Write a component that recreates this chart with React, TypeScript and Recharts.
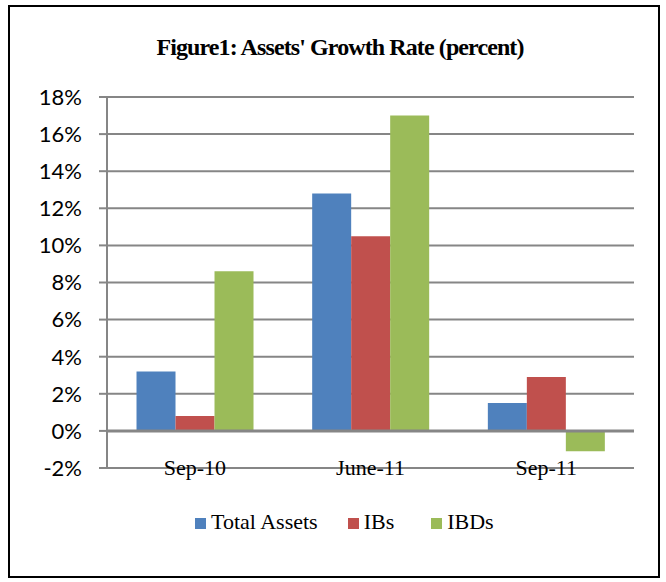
import { BarChart, Bar, XAxis, YAxis, CartesianGrid, Legend, ReferenceLine } from 'recharts'

const periods = ['Sep-10', 'June-11', 'Sep-11']
const totalAssets = [3.2, 12.8, 1.5]
const ibs = [0.8, 10.5, 2.9]
const ibds = [8.6, 17.0, -1.1]
const yTicks = [-2, 0, 2, 4, 6, 8, 10, 12, 14, 16, 18]

const series = [
  { key: 'total', name: 'Total Assets', color: '#4F81BD' },
  { key: 'ibs', name: 'IBs', color: '#C0504D' },
  { key: 'ibds', name: 'IBDs', color: '#9BBB59' },
]

const data = periods.map((p, i) => ({
  period: p,
  total: totalAssets[i],
  ibs: ibs[i],
  ibds: ibds[i],
}))

const serif = '"Liberation Serif", "Times New Roman", serif'
const gridColor = '#868686'

function CategoryTick(props: { x?: number; y?: number; payload?: { value: string } }) {
  const { x = 0, y = 0, payload } = props
  return (
    <text x={x} y={y} dy={7} textAnchor="middle" fontFamily={serif} fontSize={22} fill="#000">
      {payload?.value}
    </text>
  )
}

// keep the legend in series order (recharts sorts by name otherwise)
function LegendContent(props: { payload?: { value: string; color: string }[] }) {
  const items = [...(props.payload ?? [])].sort(
    (a, b) => series.findIndex(s => s.name === a.value) - series.findIndex(s => s.name === b.value))
  const gaps = [0, 30, 37]
  return (
    <div style={{ display: 'flex', fontFamily: serif, fontSize: 22, color: '#000', lineHeight: '26px' }}>
      {items.map((it, i) => (
        <div key={it.value} style={{ display: 'flex', alignItems: 'center', marginLeft: gaps[i] }}>
          <span style={{ display: 'inline-block', width: 11, height: 11, background: it.color, marginRight: 5, marginTop: 2 }} />
          <span>{it.value}</span>
        </div>
      ))}
    </div>
  )
}

export default function App() {
  return (
    <div style={{ position: 'absolute', left: 0, top: 0, width: 666, height: 582, background: '#fff' }}>
      <div style={{
        position: 'absolute', left: 8, top: 5, width: 648, height: 569,
        border: '2px solid #000',
      }} />
      <div style={{
        position: 'absolute', left: 0, top: 34, width: 680, textAlign: 'center',
        fontFamily: serif, fontWeight: 'bold', fontSize: 24, color: '#000', letterSpacing: -0.9,
      }}>
        Figure1: Assets' Growth Rate (percent)
      </div>
      <div style={{ position: 'absolute', left: 0, top: 0 }}>
        <BarChart width={666} height={582} data={data}
          margin={{ top: 97, right: 32, left: 0, bottom: 0 }}
          barCategoryGap="16.8%" barGap={0}>
          <CartesianGrid vertical={false} stroke={gridColor} strokeWidth={2} />
          <XAxis dataKey="period" height={114} tickLine={false} tickSize={0} tickMargin={0}
            axisLine={{ stroke: gridColor, strokeWidth: 2 }} tick={<CategoryTick />} />
          <YAxis width={107} domain={[-2, 18]} ticks={yTicks} interval={0}
            tickFormatter={(v: number) => `${v}%`}
            axisLine={{ stroke: gridColor, strokeWidth: 2 }}
            tickLine={{ stroke: gridColor, strokeWidth: 2 }} tickSize={8} tickMargin={17}
            tick={{ fontFamily: 'Lato', fontSize: 22, fill: '#000' }} />
          <ReferenceLine y={0} stroke={gridColor} strokeWidth={3} />
          {series.map(s => (
            <Bar key={s.key} dataKey={s.key} name={s.name} fill={s.color} isAnimationActive={false} />
          ))}
          <Legend content={<LegendContent />} verticalAlign="middle" layout="horizontal"
            wrapperStyle={{ position: 'absolute', top: 509, left: 195, width: 400 }} />
        </BarChart>
      </div>
    </div>
  )
}
